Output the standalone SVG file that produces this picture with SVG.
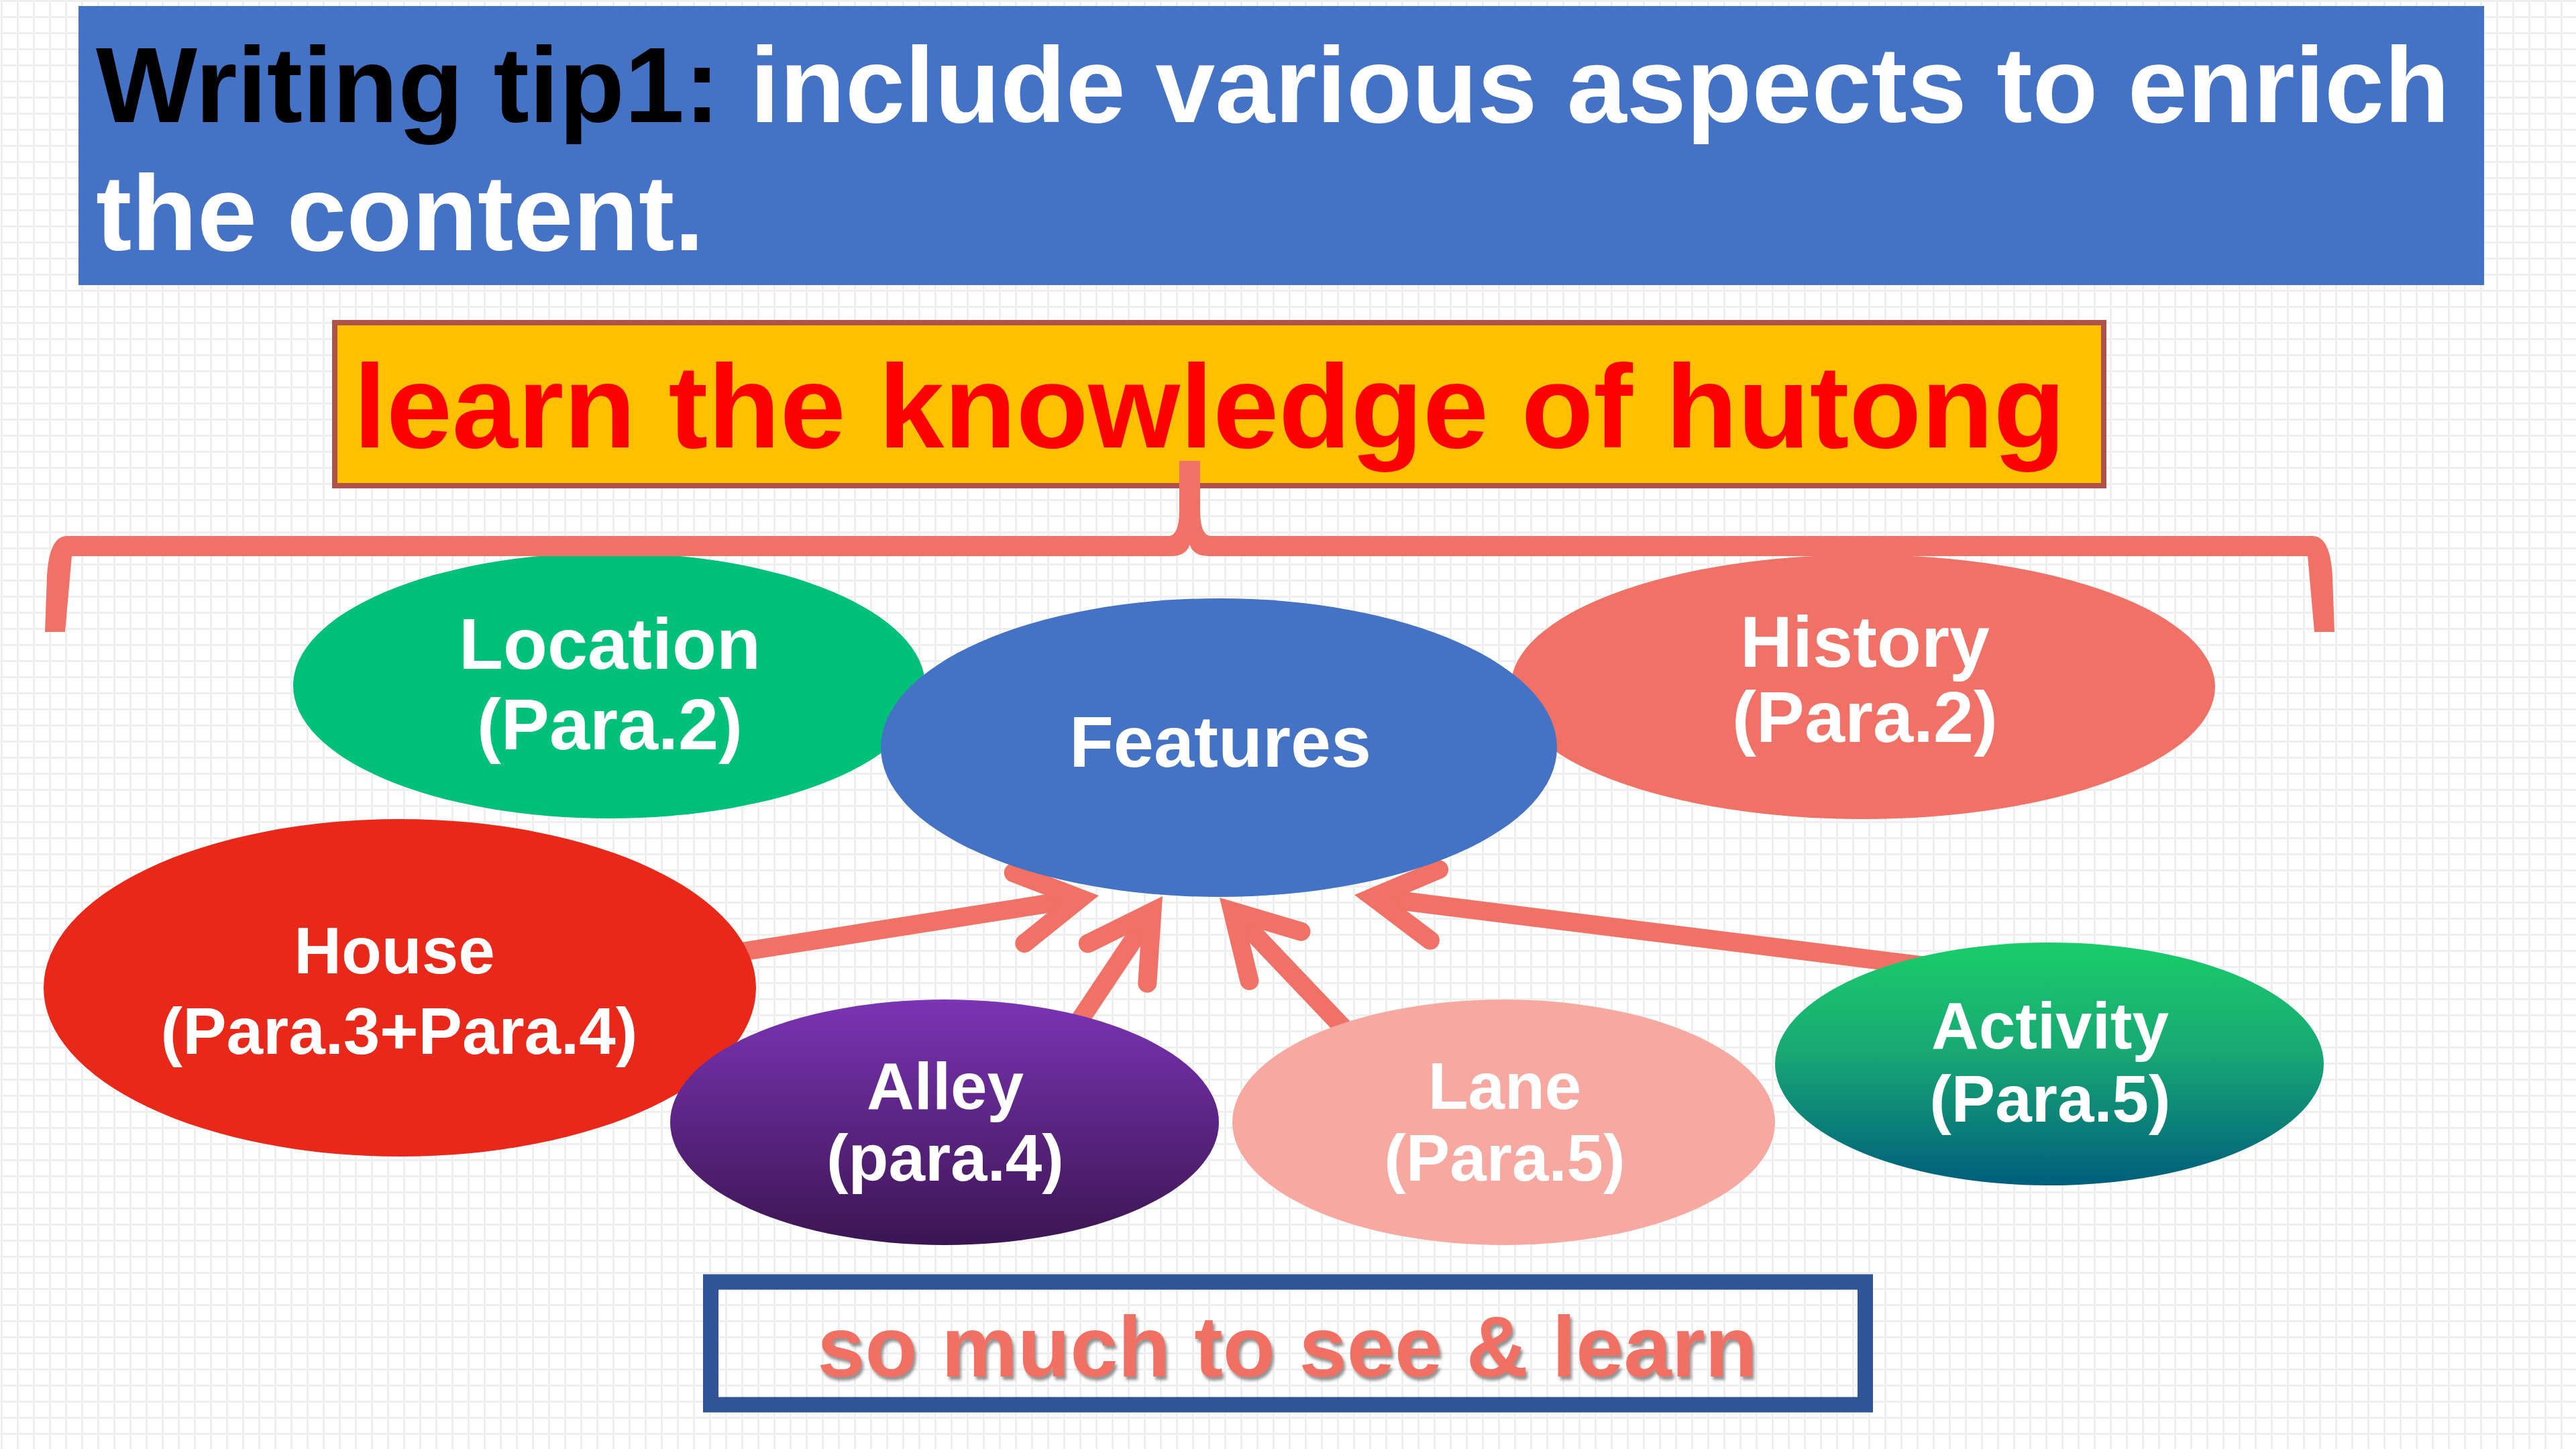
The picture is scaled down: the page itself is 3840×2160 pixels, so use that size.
<svg xmlns="http://www.w3.org/2000/svg" width="3840" height="2160" viewBox="0 0 3840 2160">
<style>
text{font-family:"Liberation Sans",Arial,sans-serif;font-weight:bold}
.lbl{fill:#FFFFFF;text-anchor:middle}
.big{font-size:108px}
.sm{font-size:98px}
.arrow{fill:none;stroke:#F07165;stroke-width:28;marker-end:url(#head)}
</style>
<defs>
<pattern id="grid" width="24" height="24" patternUnits="userSpaceOnUse">
<rect width="24" height="24" fill="#FFFFFF"/>
<rect x="1" y="0" width="3" height="24" fill="#EFEFEF"/>
<rect x="0" y="0" width="24" height="3" fill="#EFEFEF"/>
</pattern>
<marker id="head" markerUnits="strokeWidth" refX="0" refY="0" markerWidth="10" markerHeight="10" orient="auto" overflow="visible">
<path d="M-3.3,-1.9 L0,0 L-3.3,1.9" fill="none" stroke="#F07165" stroke-width="1" stroke-linecap="round" stroke-linejoin="miter" stroke-miterlimit="4"/>
</marker>
<linearGradient id="gAlley" x1="0" y1="0" x2="0" y2="1">
<stop offset="0" stop-color="#7B34B4"/>
<stop offset="1" stop-color="#3B1552"/>
</linearGradient>
<linearGradient id="gAct" x1="0" y1="0" x2="0" y2="1">
<stop offset="0" stop-color="#1ACD6A"/>
<stop offset="0.45" stop-color="#18A874"/>
<stop offset="1" stop-color="#005E7C"/>
</linearGradient>
<filter id="shadow" x="-5%" y="-20%" width="110%" height="150%">
<feDropShadow dx="3" dy="5" stdDeviation="2" flood-color="#7F7F7F" flood-opacity="0.85"/>
</filter>
</defs>

<rect width="3840" height="2160" fill="url(#grid)"/>

<g id="title">
<rect x="117" y="9" width="3586" height="416" fill="#4472C4"/>
<text x="143" y="182" font-size="160" fill="#FFFFFF"><tspan fill="#000000">Writing tip1:</tspan> include various aspects to enrich</text>
<text x="143" y="373" font-size="160" fill="#FFFFFF">the content.</text>
</g>

<g id="topic">
<rect x="499" y="481" width="2637" height="243" fill="#FFC000" stroke="#B0524A" stroke-width="8"/>
<text x="527" y="667" font-size="176" fill="#FF0000">learn the knowledge of hutong</text>
</g>

<g id="connectors">
<path class="arrow" d="M1104,1419 L1610.3,1339.3"/>
<path class="arrow" d="M1600,1535 L1717.4,1359.3"/>
<path class="arrow" d="M2010,1540 L1837.3,1358.3"/>
<path class="arrow" d="M2870,1440 L2046.8,1337.5"/>
</g>

<g id="location">
<ellipse cx="908" cy="1022" rx="471" ry="198" fill="#00C07A"/>
<text class="lbl big" x="909" y="997">Location</text>
<text class="lbl big" x="909" y="1117">(Para.2)</text>
</g>

<g id="history">
<ellipse cx="2777" cy="1024" rx="525" ry="197" fill="#F07165"/>
<text class="lbl big" x="2780" y="994">History</text>
<text class="lbl big" x="2780" y="1106">(Para.2)</text>
</g>

<g id="features">
<ellipse cx="1817" cy="1114.5" rx="504" ry="222.5" fill="#4472C4"/>
<text class="lbl big" x="1819" y="1143">Features</text>
</g>

<g id="house">
<ellipse cx="596" cy="1472.5" rx="531" ry="251.5" fill="#E8291A"/>
<text class="lbl sm" x="588" y="1451">House</text>
<text class="lbl sm" x="595" y="1571">(Para.3+Para.4)</text>
</g>

<g id="alley">
<ellipse cx="1408" cy="1673" rx="409" ry="183" fill="url(#gAlley)"/>
<text class="lbl sm" x="1409" y="1653">Alley</text>
<text class="lbl sm" x="1409" y="1760">(para.4)</text>
</g>

<g id="lane">
<ellipse cx="2241.5" cy="1673" rx="404.5" ry="183" fill="#F7A9A1"/>
<text class="lbl sm" x="2243" y="1653">Lane</text>
<text class="lbl sm" x="2243" y="1760">(Para.5)</text>
</g>

<g id="activity">
<ellipse cx="3055" cy="1586" rx="409" ry="181" fill="url(#gAct)"/>
<text class="lbl sm" x="3056" y="1563">Activity</text>
<text class="lbl sm" x="3056" y="1672">(Para.5)</text>
</g>

<g id="brace">
<path fill="#F07165" d="M67,942 L70,860 Q73,799 100,799 L1743,799 Q1758,797 1758,760 L1758,687 L1789,687 L1789,760 Q1789,797 1804,799 L3447,799 Q3474,799 3477,860 L3480,942 L3450,942 L3440,829 L1801,829 Q1779,829 1773.5,812 Q1768,829 1746,829 L107,829 L97,942 Z"/>
</g>

<g id="summary">
<rect x="1059.5" y="1911" width="1721" height="183" fill="none" stroke="#2F5597" stroke-width="23"/>
<text x="1919" y="2052" font-size="128" fill="#F07163" text-anchor="middle" filter="url(#shadow)">so much to see &amp; learn</text>
</g>
</svg>
